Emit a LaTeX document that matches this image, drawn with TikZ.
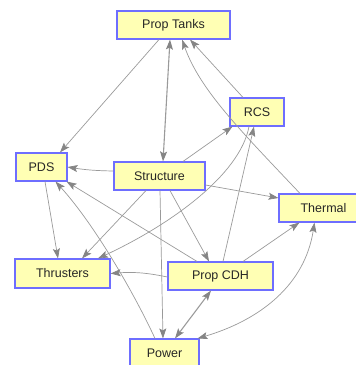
\documentclass[tikz,border=0pt]{standalone}
\usepackage{fontspec}
\setmainfont{Liberation Sans}
\usetikzlibrary{arrows.meta}
\definecolor{boxfill}{HTML}{FFFFB4}
\definecolor{boxline}{HTML}{6E6EFF}
\definecolor{lgray}{HTML}{9A9A9A}
\definecolor{agray}{HTML}{858585}
\tikzset{
  box/.style={draw=boxline, fill=boxfill, line width=1.1pt, inner sep=0pt,
    minimum height=28pt, font=\fontsize{12.5}{15}\selectfont, text=black!85},
  edge/.style={draw=lgray, line width=0.7pt, -{Stealth[length=10pt,width=7pt,inset=2pt,color=agray]}},
  bedge/.style={draw=lgray, line width=0.7pt, {Stealth[length=10pt,width=7pt,inset=2pt,color=agray]}-{Stealth[length=10pt,width=7pt,inset=2pt,color=agray]}},
  dedge/.style={draw=lgray, line width=1.1pt, {Stealth[length=10pt,width=7pt,inset=2pt,color=agray]}-{Stealth[length=10pt,width=7pt,inset=2pt,color=agray]}}
}
\begin{document}
\begin{tikzpicture}[x=1pt,y=-1pt]
\useasboundingbox (0,0) rectangle (356,365);
\clip (0,0) rectangle (356,365);
\node[box, minimum width=113pt] (tanks) at (173.5,25) {Prop Tanks};
\node[box, minimum width=54pt] (rcs) at (257,112) {RCS};
\node[box, minimum width=51pt] (pds) at (41.5,167) {PDS};
\node[box, minimum width=91pt] (structure) at (159.5,176) {Structure};
\node[box, minimum width=89pt] (thermal) at (323.5,208) {Thermal};
\node[box, minimum width=95pt, minimum height=29pt] (thrusters) at (62.5,273.5) {Thrusters};
\node[box, minimum width=105pt] (cdh) at (220.5,276) {Prop CDH};
\node[box, minimum width=69pt] (power) at (164.5,353) {Power};

\draw[edge] ([xshift=-14.5pt]tanks.south) -- ([xshift=18.5pt]pds.north);
\draw[dedge] ([xshift=-3.5pt]tanks.south) -- ([xshift=3.5pt]structure.north);
\draw[edge] ([xshift=-23.5pt]thermal.north) .. controls (240,130) and (200,90) .. ([xshift=8.5pt]tanks.south);
\draw[edge] ([xshift=-14pt]rcs.north) -- ([xshift=16.5pt]tanks.south);
\draw[edge] ([xshift=23.5pt]structure.north) -- ([xshift=3pt]rcs.south west);
\draw[edge] ([xshift=2.5pt]cdh.north) -- ([xshift=-3pt]rcs.south);
\draw[edge] ([xshift=-8pt]rcs.south) .. controls (240,175) and (170,225) .. ([xshift=35.5pt]thrusters.north);
\draw[edge] ([yshift=5pt]structure.west) to[bend left=4] (pds.east);
\draw[edge] ([yshift=-9pt]structure.east) -- ([yshift=10pt]thermal.west);
\draw[edge] ([xshift=-13.5pt]structure.south) -- ([xshift=19.5pt]thrusters.north);
\draw[edge] ([xshift=10.5pt]structure.south) -- ([xshift=-11.5pt]cdh.north);
\draw[edge] ([xshift=0.5pt]structure.south) -- ([xshift=-1.5pt]power.north);
\draw[edge] ([xshift=3.5pt]pds.south) -- ([xshift=-4.5pt]thrusters.north);
\draw[edge] ([xshift=-9.5pt]power.north) .. controls (135,295) and (95,225) .. ([xshift=14pt]pds.south);
\draw[edge] ([xshift=-23.5pt]cdh.north) -- ([xshift=-1pt]pds.south east);
\draw[edge] ([yshift=-1pt]cdh.west) to[bend right=8] (thrusters.east);
\draw[dedge] ([xshift=10.5pt]power.north) -- ([xshift=-9.5pt]cdh.south);
\draw[bedge] ([xshift=-2pt]power.north east) .. controls (260,320) and (305,285) .. ([xshift=36pt]thermal.south west);
\draw[edge] ([xshift=22.5pt]cdh.north) -- ([xshift=21pt]thermal.south west);
\end{tikzpicture}
\end{document}
